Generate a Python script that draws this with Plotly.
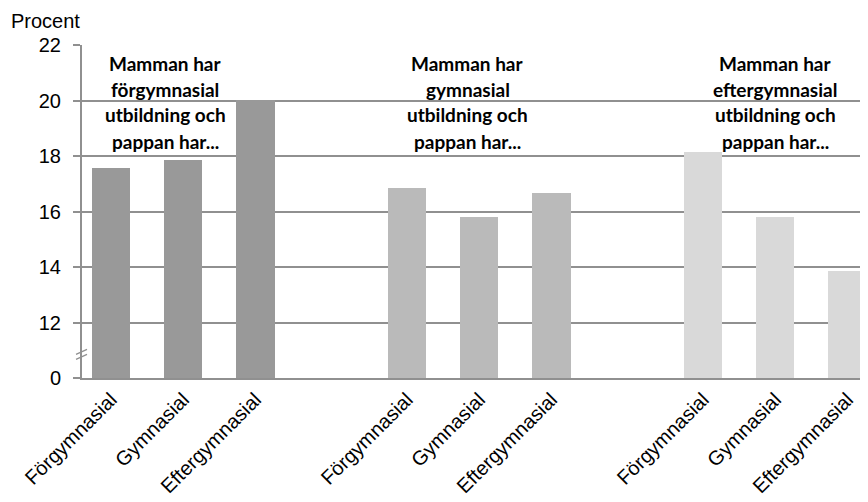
import plotly.graph_objects as go

# ---- data ----
father_edu = ["Förgymnasial", "Gymnasial", "Eftergymnasial"]
mother_groups = [
    ["Mamman har", "förgymnasial", "utbildning och", "pappan har..."],
    ["Mamman har", "gymnasial", "utbildning och", "pappan har..."],
    ["Mamman har", "eftergymnasial", "utbildning och", "pappan har..."],
]
values_mor_forgymnasial = [17.56, 17.87, 20.02]
values_mor_gymnasial = [16.86, 15.81, 16.67]
values_mor_eftergymnasial = [18.16, 15.81, 13.87]
y_tickvals = [10, 12, 14, 16, 18, 20, 22]
y_ticktext = ["0", "12", "14", "16", "18", "20", "22"]

series = [values_mor_forgymnasial, values_mor_gymnasial, values_mor_eftergymnasial]
colors = ["#999999", "#bababa", "#d9d9d9"]
group_offset = 4.1

fig = go.Figure()
tickvals, ticktext = [], []
for g, vals in enumerate(series):
    xs = [g * group_offset + i for i in range(len(father_edu))]
    tickvals += xs
    ticktext += father_edu
    fig.add_trace(go.Bar(x=xs, y=vals, width=0.53, marker_color=colors[g],
                         marker_line_width=0, showlegend=False))

# group annotations (one per line for Excel-like line spacing)
ann_x = [0.75, 4.94, 9.2]
line_y = [21.32, 20.41, 19.48, 18.54]
for g, lines in enumerate(mother_groups):
    for j, t in enumerate(lines):
        fig.add_annotation(x=ann_x[g], y=line_y[j], text="<b>%s</b>" % t, showarrow=False,
                           xanchor="center", yanchor="middle",
                           font=dict(family="Lato", size=19, color="#000000"))

L, T, B = 74, 37, 124
W = 786.0
fig.add_annotation(xref="paper", yref="paper", x=(1 - L) / W, y=1.0, yshift=37,
                   text="Procent", showarrow=False, xanchor="left", yanchor="top",
                   font=dict(family="Liberation Sans, Arial", size=20, color="#000"))

# axis break marks
def px(xp):
    return (xp - 82) / W
for dy in (0, 5):
    fig.add_shape(type="line", xref="paper", yref="y",
                  x0=px(76), x1=px(87), y0=10.85 - dy / 27.75, y1=11.03 - dy / 27.75,
                  line=dict(color="#909090", width=1.2))

fig.update_layout(
    width=860, height=494,
    margin=dict(l=L, r=0, t=T, b=B),
    paper_bgcolor="white", plot_bgcolor="white",
    bargap=0,
    font=dict(family="Liberation Sans, Arial", size=20, color="#000"),
    xaxis=dict(range=[-0.402, 10.485], tickvals=tickvals, ticktext=ticktext,
               tickangle=-45, showgrid=False, zeroline=False, showline=True,
               linecolor="#909090", linewidth=2, ticks="",
               tickfont=dict(family="Liberation Sans, Arial", size=20)),
    yaxis=dict(range=[10, 22], tickvals=y_tickvals, ticktext=y_ticktext,
               showgrid=True, gridcolor="#909090", gridwidth=2, zeroline=False,
               showline=True, linecolor="#909090", linewidth=2,
               ticks="outside", ticklen=7, tickcolor="#909090", tickwidth=2,
               ticklabelstandoff=8,
               tickfont=dict(family="Liberation Sans, Arial", size=20)),
)

fig.write_html("out.html")
